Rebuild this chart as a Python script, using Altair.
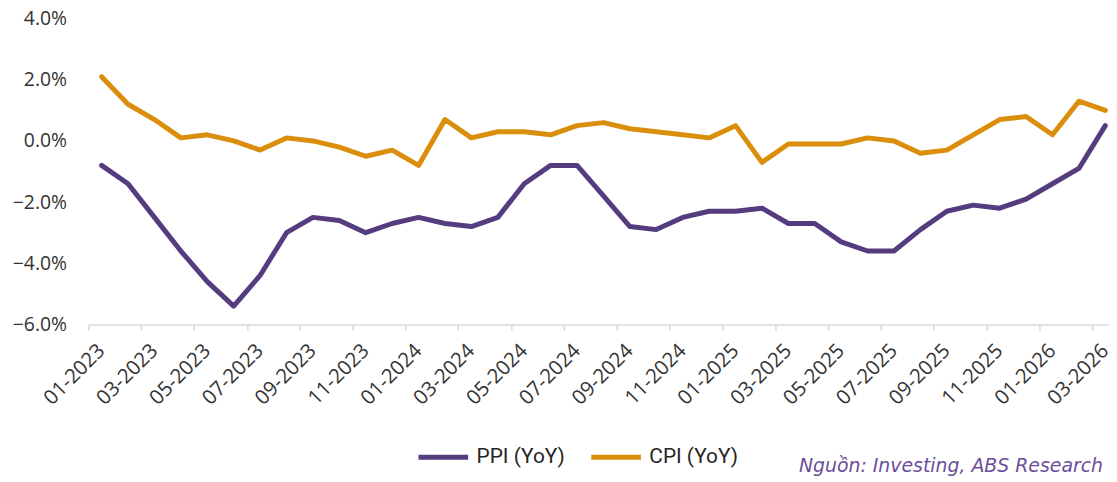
import altair as alt
import pandas as pd

# ---- data -----------------------------------------------------------
years_months = [(2023, m) for m in range(1, 13)] + [(2024, m) for m in range(1, 13)] \
    + [(2025, m) for m in range(1, 13)] + [(2026, m) for m in range(1, 4)]
months = [f"{m:02d}-{y}" for y, m in years_months]

ppi = [-0.8, -1.4, -2.5, -3.6, -4.6, -5.4, -4.4, -3.0, -2.5, -2.6, -3.0, -2.7,
       -2.5, -2.7, -2.8, -2.5, -1.4, -0.8, -0.8, -1.8, -2.8, -2.9, -2.5, -2.3,
       -2.3, -2.2, -2.7, -2.7, -3.3, -3.6, -3.6, -2.9, -2.3, -2.1, -2.2, -1.9,
       -1.4, -0.9, 0.5]
cpi = [2.1, 1.2, 0.7, 0.1, 0.2, 0.0, -0.3, 0.1, 0.0, -0.2, -0.5, -0.3,
       -0.8, 0.7, 0.1, 0.3, 0.3, 0.2, 0.5, 0.6, 0.4, 0.3, 0.2, 0.1,
       0.5, -0.7, -0.1, -0.1, -0.1, 0.1, 0.0, -0.4, -0.3, 0.2, 0.7, 0.8,
       0.2, 1.3, 1.0]

series_names = ["PPI (YoY)", "CPI (YoY)"]
series_colors = ["#553C7F", "#DB8E0C"]
y_ticks = [-6, -4, -2, 0, 2, 4]
source_note = ["Nguồn: Investing, ABS Research"]

rows = []
for i, m in enumerate(months):
    rows.append({"i": i, "month": m, "series": series_names[0], "value": ppi[i]})
    rows.append({"i": i, "month": m, "series": series_names[1], "value": cpi[i]})
df = pd.DataFrame(rows)

tick_vals = [k - 0.5 for k in range(0, len(months), 2)]
label_array = "[" + ",".join(f"'{m}'" for m in months) + "]"
label_expr = f"{label_array}[round(datum.value + 0.5)]"

axis_color = "#d9d9d9"
text_color = "#333333"

lines = alt.Chart(df).mark_line(strokeWidth=5, strokeCap="round", strokeJoin="round").encode(
    x=alt.X(
        "i:Q",
        scale=alt.Scale(domain=[-0.5, 38.14], nice=False, zero=False),
        axis=alt.Axis(
            values=tick_vals, labelExpr=label_expr, labelOffset=13,
            labelAngle=-45, labelAlign="right", labelBaseline="middle",
            labelPadding=17, labelOverlap=False, labelFlush=False,
            tickSize=6, tickColor=axis_color, tickWidth=1.5,
            domainColor=axis_color, domainWidth=1.5, grid=False, title=None,
            labelFont="Open Sans", labelFontSize=20.5, labelColor=text_color,
        ),
    ),
    y=alt.Y(
        "value:Q",
        scale=alt.Scale(domain=[-6, 4], nice=False),
        axis=alt.Axis(
            values=y_ticks, labelExpr="format(datum.value, '.1f') + '%'",
            domain=False, ticks=False, grid=False, labelPadding=22, title=None,
            labelFlush=False, labelFont="Open Sans", labelFontSize=19.5,
            labelColor=text_color,
        ),
    ),
    color=alt.Color(
        "series:N",
        sort=series_names,
        scale=alt.Scale(domain=series_names, range=series_colors),
        legend=alt.Legend(
            orient="none", legendX=330, legendY=414, direction="horizontal",
            title=None, symbolType="stroke", symbolSize=2500, symbolStrokeWidth=5,
            labelFont="Roboto", labelFontSize=21, labelColor="#262626",
            labelOffset=6, columnPadding=16,
        ),
    ),
)

note = alt.Chart(pd.DataFrame({"t": source_note})).mark_text(
    align="right", baseline="alphabetic", font="DejaVu Sans", fontStyle="italic",
    fontSize=19, color="#6A4F9A",
).encode(text="t:N", x=alt.value(1022), y=alt.value(457))

chart = alt.layer(lines, note).properties(
    width=1028, height=308,
    autosize=alt.AutoSizeParams(type="none"),
    padding={"left": 81, "top": 9, "right": 0, "bottom": 154},
).configure_view(stroke=None)

chart.save("out.html", embed_options={"renderer": "svg", "actions": False})
